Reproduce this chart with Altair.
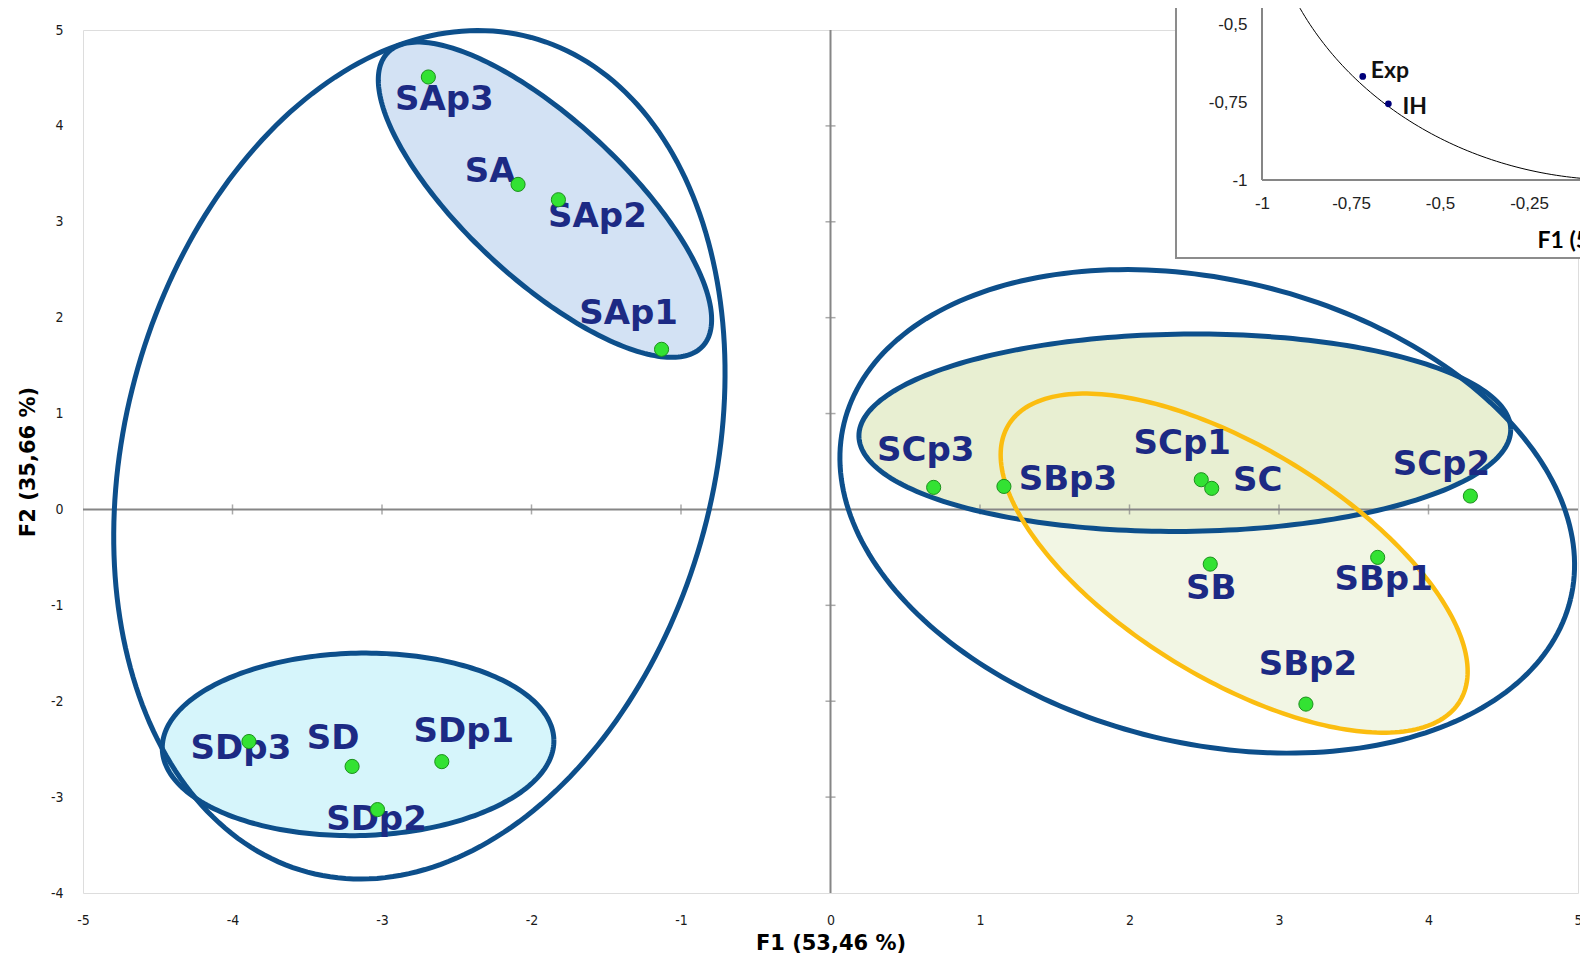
import math
import numpy as np
import pandas as pd
import altair as alt

# ---------------- data ----------------
samples = ["SAp3", "SA", "SAp2", "SAp1", "SDp3", "SD", "SDp1", "SDp2",
           "SCp3", "SBp3", "SCp1", "SC", "SCp2", "SB", "SBp1", "SBp2"]
f1 = [-2.69, -2.09, -1.82, -1.13, -3.89, -3.20, -2.60, -3.03,
      0.69, 1.16, 2.48, 2.55, 4.28, 2.54, 3.66, 3.18]
f2 = [4.51, 3.39, 3.23, 1.67, -2.42, -2.68, -2.63, -3.13,
      0.23, 0.24, 0.31, 0.22, 0.14, -0.57, -0.50, -2.03]

# group ellipses: centre (F1, F2), semi-axes (in F1 units of screen length), tilt in degrees
ell_names = ["outer_left", "SA", "SD", "outer_right", "SC", "SB"]
ell_cx = [-2.75, -1.91, -3.16, 2.52, 2.37, 2.70]
ell_cy = [0.57, 3.23, -2.45, -0.02, 0.80, -0.56]
ell_a = [2.89, 1.44, 1.31, 2.50, 2.18, 1.77]
ell_b = [1.97, 0.53, 0.61, 1.55, 0.66, 0.77]
ell_angle = [75.0, -42.9, 1.3, -13.6, 0.6, -31.5]

# inset: correlation circle variables
var_names = ["Exp", "IH"]
var_f1 = [-0.717, -0.645]
var_f2 = [-0.668, -0.756]

x_ticks = [-5, -4, -3, -2, -1, 0, 1, 2, 3, 4, 5]
y_ticks = [-4, -3, -2, -1, 0, 1, 2, 3, 4, 5]
inset_x_ticks = [-1, -0.75, -0.5, -0.25]
inset_y_ticks = [-1, -0.75, -0.5]

# ---------------- layout / style ----------------
W, H = 1495, 863
PAD = {"left": 75, "top": 22, "right": 2, "bottom": 62}
PX_X = W / 10.0
PX_Y = H / 9.0
K = PX_Y / PX_X
TOP = 8 + PAD["top"]          # page y of the plot top
LEFT = 8 + PAD["left"]        # page x of the plot left

label_offset = {  # pixel offsets of sample labels (dx right, dy down)
    "SAp3": (16, 23), "SA": (-28, -12), "SAp2": (39, 17), "SAp1": (-33, -35),
    "SDp3": (-8, 8), "SD": (-19, -27), "SDp1": (22, -30), "SDp2": (-1, 10),
    "SCp3": (-8, -36), "SBp3": (64, -6), "SCp1": (-19, -36), "SC": (46, -7),
    "SCp2": (-29, -31), "SB": (1, 25), "SBp1": (6, 23), "SBp2": (2, -39),
}
fill_color = {"SA": "#d3e2f4", "SD": "#d6f5fb", "SC": "#e8efd2", "SB": "#f2f6e4"}
stroke_color = {"outer_left": "#0d4f8b", "SA": "#0d4f8b", "SD": "#0d4f8b",
                "outer_right": "#0d4f8b", "SC": "#0d4f8b", "SB": "#fbbd10"}

LABEL_FONT = "DejaVu Sans"
TICK_FONT = "DejaVu Sans Condensed, DejaVu Sans"
GRAY = "#868686"
NAVY_TXT = "#1c2a84"

# ---------------- tables ----------------
pts = pd.DataFrame({"name": samples, "x": f1, "y": f2})
pts["lx"] = [x + label_offset[n][0] / PX_X for n, x in zip(samples, f1)]
pts["ly"] = [y - label_offset[n][1] / PX_Y for n, y in zip(samples, f2)]

tt = np.linspace(0, 2 * np.pi, 241)
rows = []
for n, cx, cy, a, b, ang in zip(ell_names, ell_cx, ell_cy, ell_a, ell_b, ell_angle):
    th = math.radians(ang)
    for i, t in enumerate(tt):
        dx = a * math.cos(t) * math.cos(th) - b * math.sin(t) * math.sin(th)
        dy = a * math.cos(t) * math.sin(th) + b * math.sin(t) * math.cos(th)
        rows.append({"e": n, "i": i, "x": cx + dx, "y": cy + dy / K})
ell_df = pd.DataFrame(rows)

xs = alt.Scale(domain=[-5, 5], nice=False, zero=False)
ys = alt.Scale(domain=[-4, 5], nice=False, zero=False)
lab_expr = "(datum.value < 0 ? '-' : '') + replace(format(abs(datum.value), '~g'), '.', ',')"

x_axis = alt.Axis(values=x_ticks, domain=False, ticks=False, tickSize=0, grid=False,
                  labelPadding=20, labelFlush=False, labelFont=TICK_FONT, labelFontSize=14,
                  labelColor="#1a1a1a", labelExpr=lab_expr,
                  title="F1 (53,46 %)", titleFont=LABEL_FONT, titleFontSize=21,
                  titleFontWeight="bold", titleColor="#000000", titleY=50,
                  titleBaseline="middle")
y_axis = alt.Axis(values=y_ticks, domain=False, ticks=False, tickSize=0, grid=False,
                  labelPadding=20, labelFlush=False, labelFont=TICK_FONT, labelFontSize=14,
                  labelColor="#1a1a1a", labelExpr=lab_expr,
                  title="F2 (35,66 %)", titleFont=LABEL_FONT, titleFontSize=21,
                  titleFontWeight="bold", titleColor="#000000", titleX=-55,
                  titleBaseline="middle")

X = alt.X("x:Q", scale=xs, axis=x_axis)
Y = alt.Y("y:Q", scale=ys, axis=y_axis)

layers = []
# fills (SB below SC)
for n in ["SA", "SD", "SB", "SC"]:
    layers.append(
        alt.Chart(ell_df).transform_filter(alt.datum.e == n)
        .mark_line(fill=fill_color[n], strokeOpacity=0)
        .encode(x=X, y=Y, order="i:Q")
    )

# zero lines with cross ticks
vline = pd.DataFrame({"x": [0], "y": [-4], "y2": [5]})
hline = pd.DataFrame({"x": [-5], "x2": [5], "y": [0]})
layers.append(alt.Chart(vline).mark_rule(color=GRAY, strokeWidth=2)
              .encode(x=X, y=Y, y2="y2:Q"))
layers.append(alt.Chart(hline).mark_rule(color=GRAY, strokeWidth=2)
              .encode(x=X, x2="x2:Q", y=Y))
xt = pd.DataFrame({"x": [v for v in x_ticks if v not in (-5, 0, 5)], "y": 0})
yt = pd.DataFrame({"y": [v for v in y_ticks if v not in (-4, 0, 5)], "x": 0})
layers.append(alt.Chart(xt).mark_tick(orient="vertical", color=GRAY, size=10, thickness=1.5)
              .encode(x=X, y=Y))
layers.append(alt.Chart(yt).mark_tick(orient="horizontal", color=GRAY, size=10, thickness=1.5)
              .encode(x=X, y=Y))

# outlines
for n in ell_names:
    layers.append(
        alt.Chart(ell_df).transform_filter(alt.datum.e == n)
        .mark_line(stroke=stroke_color[n], strokeWidth=5 if n != "SB" else 4.5)
        .encode(x=X, y=Y, order="i:Q")
    )

# labels then points
layers.append(
    alt.Chart(pts).mark_text(font=LABEL_FONT, fontSize=34, fontWeight="bold",
                             color=NAVY_TXT, align="center", baseline="middle")
    .encode(x=alt.X("lx:Q", scale=xs, axis=x_axis), y=alt.Y("ly:Q", scale=ys, axis=y_axis),
            text="name:N")
)
layers.append(
    alt.Chart(pts).mark_circle(size=200, color="#33e233", opacity=1,
                               stroke="#1c8f1c", strokeWidth=1)
    .encode(x=X, y=Y)
)
main = alt.layer(*layers)

# ---------------- inset (correlation circle) ----------------
IN_X0 = 1262 - LEFT      # x = -1 of the inset, relative to plot left
IN_Y0 = 180 - TOP        # y = -1 of the inset, relative to plot top
IN_UX, IN_UY = 356, 312  # pixels per unit in the inset
ixs = alt.Scale(domain=[-1, 1], range=[IN_X0, IN_X0 + 2 * IN_UX], nice=False, zero=False)
iys = alt.Scale(domain=[-1, 1], range=[IN_Y0, IN_Y0 - 2 * IN_UY], nice=False, zero=False)
ix_axis = alt.Axis(values=inset_x_ticks, orient="bottom", offset=IN_Y0 - H, domain=False,
                   ticks=False, tickSize=0, grid=False, labelFlush=False, labelPadding=15,
                   labelFont="Liberation Sans", labelFontSize=17, labelColor="#222222",
                   labelExpr=lab_expr, title="F1 (53,46 %)", titleX=1537 - LEFT, titleY=60,
                   titleAlign="left", titleBaseline="middle", titleFont="Lato",
                   titleFontSize=23, titleFontWeight="bold", titleColor="#000000", zindex=2)
iy_axis = alt.Axis(values=inset_y_ticks, orient="left", offset=-IN_X0, domain=False,
                   ticks=False, tickSize=0, grid=False, labelFlush=False, labelPadding=15,
                   labelFont="Liberation Sans", labelFontSize=17, labelColor="#222222",
                   labelExpr=lab_expr, title=None, zindex=2)
IX = alt.X("x:Q", scale=ixs, axis=ix_axis)
IY = alt.Y("y:Q", scale=iys, axis=iy_axis)

box = pd.DataFrame({"x": [-1.2416], "x2": [1.0], "y": [-1.25], "y2": [1.0]})
ivl = pd.DataFrame({"x": [-1], "y": [-1], "y2": [1]})
ihl = pd.DataFrame({"x": [-1], "x2": [1], "y": [-1]})
ang = np.linspace(math.pi * 0.95, math.pi * 1.5, 120)
arc = pd.DataFrame({"i": range(len(ang)), "x": np.cos(ang), "y": np.sin(ang)})
var_dx = {"Exp": (8, -5), "IH": (14, 3)}
vars_df = pd.DataFrame({"name": var_names, "x": var_f1, "y": var_f2})
vars_df["lx"] = [x + var_dx[n][0] / IN_UX for n, x in zip(var_names, var_f1)]
vars_df["ly"] = [y - var_dx[n][1] / IN_UY for n, y in zip(var_names, var_f2)]

inset = alt.layer(
    alt.Chart(box).mark_rect(fill="white", stroke="#8c8c8c", strokeWidth=2)
    .encode(x=IX, x2="x2:Q", y=IY, y2="y2:Q"),
    alt.Chart(ivl).mark_rule(color=GRAY, strokeWidth=2).encode(x=IX, y=IY, y2="y2:Q"),
    alt.Chart(ihl).mark_rule(color=GRAY, strokeWidth=2).encode(x=IX, x2="x2:Q", y=IY),
    alt.Chart(arc).mark_line(color="#000000", strokeWidth=1).encode(x=IX, y=IY, order="i:Q"),
    alt.Chart(vars_df).mark_circle(size=45, color="#00007a", opacity=1).encode(x=IX, y=IY),
    alt.Chart(vars_df).mark_text(font="Lato", fontSize=23, fontWeight="bold", color="#111111",
                                 align="left", baseline="middle")
    .encode(x=alt.X("lx:Q", scale=ixs, axis=ix_axis), y=alt.Y("ly:Q", scale=iys, axis=iy_axis),
            text="name:N"),
)

chart = (
    alt.layer(main, inset)
    .resolve_scale(x="independent", y="independent")
    .properties(width=W, height=H, padding=PAD,
                autosize=alt.AutoSizeParams(type="none"))
    .configure_view(stroke=GRAY, strokeWidth=2)
    .configure(background="white")
)

chart.save("out.html", embed_options={"renderer": "svg", "actions": False})
